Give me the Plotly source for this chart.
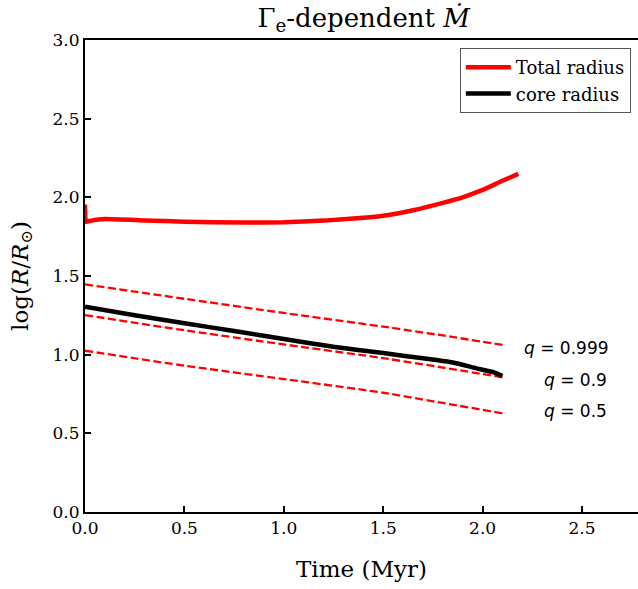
import plotly.graph_objects as go

# Total radius (red)
t_total = [0.0, 0.005, 0.03, 0.1, 0.3, 0.5, 0.8, 1.0, 1.2, 1.4, 1.5, 1.65, 1.8, 1.9, 2.0, 2.1, 2.18]
r_total = [1.955, 1.845, 1.852, 1.862, 1.853, 1.845, 1.840, 1.842, 1.852, 1.870, 1.883, 1.918, 1.965, 2.0, 2.047, 2.105, 2.149]

# Core radius (black)
t_core = [0.0, 0.25, 0.5, 0.75, 1.0, 1.25, 1.5, 1.7, 1.85, 1.97, 2.05, 2.10]
r_core = [1.305, 1.25, 1.20, 1.15, 1.10, 1.05, 1.01, 0.977, 0.95, 0.913, 0.89, 0.864]

# q curves (dashed)
t_q = [0.0, 0.5, 1.0, 1.5, 1.8, 2.1]
r_q999 = [1.447, 1.355, 1.265, 1.178, 1.122, 1.062]
r_q90 = [1.252, 1.155, 1.065, 0.978, 0.918, 0.856]
r_q50 = [1.025, 0.93, 0.845, 0.758, 0.693, 0.627]

q_labels = ["<i>q</i> = 0.999", "<i>q</i> = 0.9", "<i>q</i> = 0.5"]
q_label_x = [2.197, 2.297, 2.297]
q_label_y = [1.042, 0.839, 0.644]

x_ticks = [0.0, 0.5, 1.0, 1.5, 2.0, 2.5]
y_ticks = [0.0, 0.5, 1.0, 1.5, 2.0, 2.5, 3.0]

SERIF = "DejaVu Serif"

fig = go.Figure()
for r in [r_q999, r_q90, r_q50]:
    fig.add_trace(go.Scatter(x=t_q, y=r, mode="lines", showlegend=False,
                             line=dict(color="red", width=2.3, dash="8px,3.5px", shape="spline", smoothing=0.5)))
fig.add_trace(go.Scatter(x=t_total, y=r_total, mode="lines", name="Total radius",
                         line=dict(color="red", width=4.5, shape="spline", smoothing=0.4)))
fig.add_trace(go.Scatter(x=t_core, y=r_core, mode="lines", name="core radius",
                         line=dict(color="black", width=4.5, shape="spline", smoothing=0.5)))

for txt, xx, yy in zip(q_labels, q_label_x, q_label_y):
    fig.add_annotation(x=xx, y=yy, text=txt, showarrow=False, xanchor="left",
                       yanchor="middle", font=dict(family="DejaVu Sans", size=17, color="black"))

fig.update_layout(
    width=638, height=589,
    margin=dict(l=85, r=0, t=40, b=77),
    plot_bgcolor="white", paper_bgcolor="white",
    font=dict(family=SERIF, color="black", size=17),
    title=dict(text="Γ<sub>e</sub>-dependent <i>Ṁ</i>", x=0.57, xanchor="center",
               y=0.985, yanchor="top", font=dict(family=SERIF, size=26, color="black")),
    legend=dict(x=0.987, y=0.983, xanchor="right", yanchor="top",
                bordercolor="#555555", borderwidth=1, bgcolor="white",
                font=dict(family=SERIF, size=18), itemwidth=45, tracegroupgap=0,
                entrywidth=137),
    xaxis=dict(range=[0, 2.7817], tickvals=x_ticks, ticktext=[f"{v:.1f}" for v in x_ticks],
               ticks="inside", ticklen=6, tickwidth=1.5, tickcolor="black",
               showline=True, linecolor="black", linewidth=2, mirror=True,
               showgrid=False, zeroline=False,
               title=dict(text="Time (Myr)", font=dict(family=SERIF, size=23), standoff=23),
               tickfont=dict(family=SERIF, size=17)),
    yaxis=dict(range=[0, 3.0], tickvals=y_ticks, ticktext=[f"{v:.1f}" for v in y_ticks],
               ticks="inside", ticklen=6, tickwidth=1.5, tickcolor="black",
               showline=True, linecolor="black", linewidth=2,
               showgrid=False, zeroline=False,
               title=dict(text="log(<i>R</i>/<i>R</i><sub>⊙</sub>)", font=dict(family=SERIF, size=23), standoff=18),
               tickfont=dict(family=SERIF, size=17)),
)

fig.write_html("out.html")
